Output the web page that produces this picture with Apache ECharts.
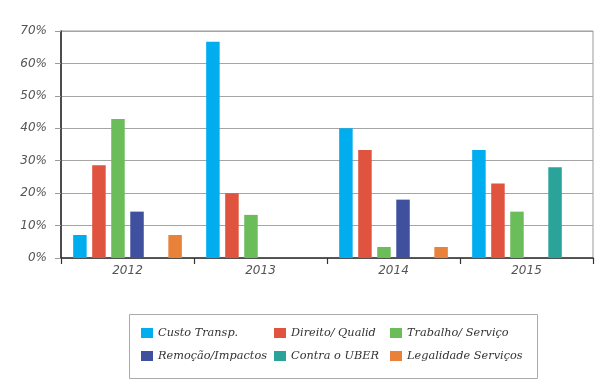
<!DOCTYPE html>
<html>
<head>
<meta charset="utf-8">
<script src="https://cdn.jsdelivr.net/npm/echarts@6/dist/echarts.min.js"></script>
<style>
    html, body { margin: 0; padding: 0; background: #fff; }
    #chart { width: 607px; height: 387px; }
</style>
</head>
<body>
<div id="chart"></div>
<script>
    var years = ['2012', '2013', '2014', '2015']
    var seriesNames = ['Custo Transp.', 'Direito/ Qualid', 'Trabalho/ Serviço', 'Remoção/Impactos', 'Contra o UBER', 'Legalidade Serviços']
    var custo = [7.1, 66.7, 40.0, 33.3]
    var direito = [28.6, 20.0, 33.3, 23.0]
    var trabalho = [42.9, 13.3, 3.4, 14.3]
    var remocao = [14.3, null, 18.0, null]
    var contra = [null, null, null, 28.0]
    var legalidade = [7.1, null, 3.4, null]
    var colors = ['#00adef', '#e0533f', '#6bbd5a', '#3e509e', '#2aa39b', '#e8813a']

    var allValues = [custo, direito, trabalho, remocao, contra, legalidade]
    var legendFont = { fontFamily: 'DejaVu Serif', fontStyle: 'italic', fontSize: 11.3, color: '#333', lineHeight: 14 }

    var series = seriesNames.map(function (name, i) {
        return {
            name: name,
            type: 'bar',
            barWidth: 13.5,
            barGap: '41%',
            itemStyle: { color: colors[i] },
            data: allValues[i]
        }
    })

    // three legend columns, like the table-shaped legend of the original
    var legendCols = [[0, 3], [1, 4], [2, 5]]
    var legendLeft = [141, 274, 390]
    var legends = legendCols.map(function (col, k) {
        return {
            orient: 'vertical',
            left: legendLeft[k],
            top: 326,
            padding: 0,
            itemWidth: 12,
            itemHeight: 10,
            itemGap: 9,
            icon: 'rect',
            textStyle: legendFont,
            data: col.map(function (i) { return seriesNames[i] })
        }
    })

    var option = {
        animation: false,
        grid: {
            left: 61, right: 14, top: 31, bottom: 129,
            show: true, borderColor: '#9a9a9a', borderWidth: 1
        },
        legend: legends,
        xAxis: {
            type: 'category',
            data: years,
            axisLine: { lineStyle: { color: '#333', width: 1.5 } },
            axisTick: { show: true, length: 6, lineStyle: { color: '#333', width: 1.2 } },
            axisLabel: {
                margin: 7,
                fontFamily: 'DejaVu Sans', fontStyle: 'italic', fontSize: 12, color: '#555'
            }
        },
        yAxis: {
            type: 'value',
            min: 0, max: 70, interval: 10,
            axisLine: { show: true, lineStyle: { color: '#222', width: 1.5 } },
            axisTick: { show: true, length: 6, lineStyle: { color: '#999' } },
            splitLine: { lineStyle: { color: '#a5a5a5', width: 1.2 } },
            axisLabel: {
                margin: 14,
                formatter: '{value}%',
                fontFamily: 'DejaVu Sans', fontStyle: 'italic', fontSize: 12, color: '#555'
            }
        },
        graphic: [{
            type: 'rect',
            left: 127, top: 312,
            shape: { width: 408, height: 64 },
            style: { fill: 'none', stroke: '#aaa', lineWidth: 1 },
            z: -1
        }],
        series: series
    }

    var myChart = echarts.init(document.getElementById('chart'))
    myChart.setOption(option)
</script>
</body>
</html>
